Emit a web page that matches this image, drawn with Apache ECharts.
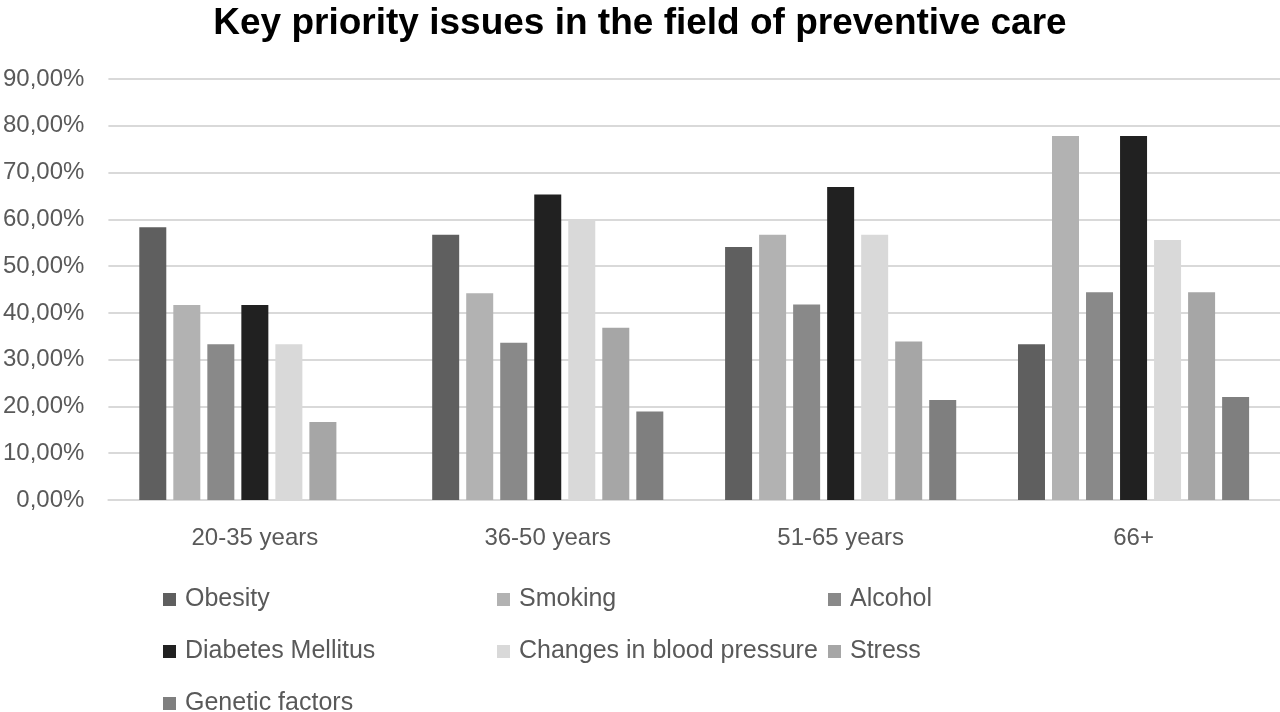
<!DOCTYPE html>
<html>
<head>
<meta charset="utf-8">
<script src="https://cdn.jsdelivr.net/npm/echarts@6/dist/echarts.min.js"></script>
<style>html,body{margin:0;padding:0;background:#fff}#c{width:1280px;height:712px}</style>
</head>
<body>
<div id="c"></div>
<script>
var categories = ['20-35 years', '36-50 years', '51-65 years', '66+'];
var seriesNames = ['Obesity', 'Smoking', 'Alcohol', 'Diabetes Mellitus', 'Changes in blood pressure', 'Stress', 'Genetic factors'];
var obesity = [58.3, 56.7, 54.1, 33.3];
var smoking = [41.7, 44.2, 56.7, 77.8];
var alcohol = [33.3, 33.6, 41.8, 44.4];
var diabetes = [41.7, 65.3, 66.9, 77.8];
var bloodPressure = [33.3, 60.0, 56.7, 55.6];
var stress = [16.7, 36.8, 33.9, 44.4];
var genetic = [0, 18.9, 21.4, 22.0];
var yTicks = [0, 10, 20, 30, 40, 50, 60, 70, 80, 90];

var colors = ['#5f5f5f', '#b2b2b2', '#898989', '#212121', '#d9d9d9', '#a6a6a6', '#7f7f7f'];
var values = [obesity, smoking, alcohol, diabetes, bloodPressure, stress, genetic];
var FONT = '"Liberation Sans", Arial, sans-serif';
var legendCols = [163, 497, 828];
var legendRows = [587, 639, 691];

var chart = echarts.init(document.getElementById('c'));
var legends = seriesNames.map(function (n, i) {
  return {
    left: legendCols[i % 3], top: legendRows[Math.floor(i / 3)], padding: 0,
    itemWidth: 13, itemHeight: 13, icon: 'rect', selectedMode: false,
    textStyle: { fontFamily: FONT, fontSize: 25, color: '#595959', padding: [0, 0, 0, 4] },
    data: [n]
  };
});
chart.setOption({
  animation: false,
  title: {
    text: 'Key priority issues in the field of preventive care',
    left: 'center', top: 0,
    textStyle: { fontFamily: FONT, fontSize: 37, fontWeight: 'bold', color: '#000' }
  },
  color: colors,
  legend: legends,
  grid: { left: 108, right: 0, top: 79, bottom: 212 },
  xAxis: {
    type: 'category', data: categories,
    axisTick: { show: false },
    axisLine: { lineStyle: { color: '#d9d9d9', width: 2 } },
    axisLabel: { margin: 26, fontFamily: FONT, fontSize: 24, color: '#595959' }
  },
  yAxis: {
    type: 'value', min: yTicks[0], max: yTicks[yTicks.length - 1], interval: 10,
    axisLine: { show: false }, axisTick: { show: false },
    splitLine: { lineStyle: { color: '#d9d9d9', width: 2 } },
    axisLabel: {
      margin: 24, fontFamily: FONT, fontSize: 24, color: '#595959',
      formatter: function (v) { return v.toFixed(2).replace('.', ',') + '%'; }
    }
  },
  series: seriesNames.map(function (n, i) {
    return { name: n, type: 'bar', data: values[i], barWidth: 27, barGap: '26%', itemStyle: { color: colors[i] } };
  })
});
</script>
</body>
</html>
